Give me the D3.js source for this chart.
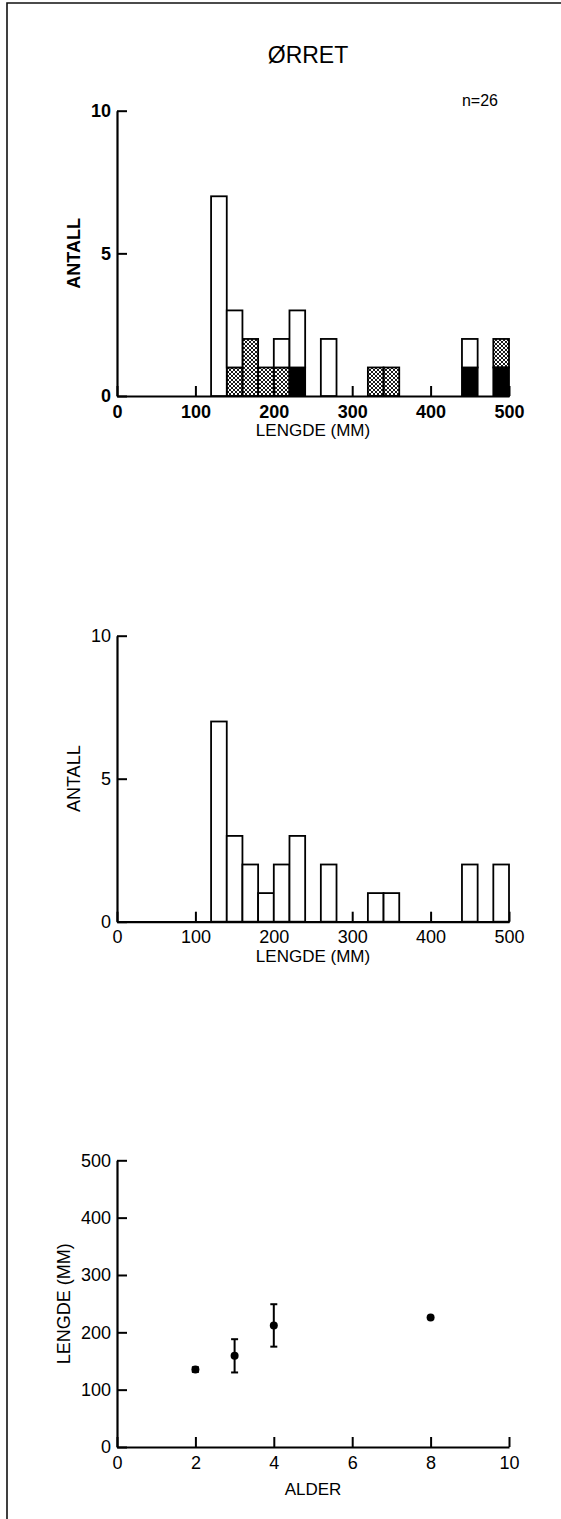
<!DOCTYPE html>
<html>
<head>
<meta charset="utf-8">
<script src="https://cdn.jsdelivr.net/npm/d3@7"></script>
<style>
  body { margin: 0; background: #fff; }
  svg { display: block; font-family: "Liberation Sans", Arial, sans-serif; }
</style>
</head>
<body>
<div id="chart"></div>
<script>
// histogram bins (lower edge, mm), 20 mm wide
const binStarts = [120, 140, 160, 180, 200, 220, 260, 320, 340, 440, 480];
const binWidth = 20;
// top panel, stacked: black at bottom, hatched, then open
const countBlack   = [0, 0, 0, 0, 0, 1, 0, 0, 0, 1, 1];
const countHatched = [0, 1, 2, 1, 1, 0, 0, 1, 1, 0, 1];
const countOpen    = [7, 2, 0, 0, 1, 2, 2, 0, 0, 1, 0];
// middle panel, all fish
const countTotal   = [7, 3, 2, 1, 2, 3, 2, 1, 1, 2, 2];
// bottom panel, length at age
const ages = [2, 3, 4, 8];
const meanLength = [135, 159, 212, 226];
const sdLength = [4, 29, 37, 0];

const lengthTicks = [0, 100, 200, 300, 400, 500];
const countTicks = [0, 5, 10];
const ageTicks = [0, 2, 4, 6, 8, 10];
const meanTicks = [0, 100, 200, 300, 400, 500];

let width = 561, height = 1519;
let left = 117, right = 509;

const svg = d3.select("#chart")
  .append("svg")
  .attr("width", width)
  .attr("height", height);

// hatch pattern
svg.append("defs").append("pattern")
    .attr("id", "hatch")
    .attr("patternUnits", "userSpaceOnUse")
    .attr("width", 4)
    .attr("height", 4)
  .append("path")
    .attr("d", "M0,0L4,4M4,0L0,4")
    .attr("stroke", "#000")
    .attr("stroke-width", 0.9);

// frame
svg.append("path")
    .attr("d", `M7,${height}V3H${width}`)
    .attr("fill", "none")
    .attr("stroke", "#111")
    .attr("stroke-width", 1.6);

svg.append("text")
    .attr("x", 308)
    .attr("y", 63)
    .attr("text-anchor", "middle")
    .attr("font-size", 23)
    .text("ØRRET");

let x = d3.scaleLinear().domain([0, 500]).range([left, right]);

function drawAxes(g, xs, ys, xt, yt, bold, xlabel, ylabel, xlabelGap, ylabelX) {
  let y0 = ys.range()[0];
  let ax = g.append("g")
    .attr("transform", `translate(0,${y0})`)
    .call(d3.axisBottom(xs).tickValues(xt).tickSize(-10).tickSizeOuter(0).tickPadding(9));
  let ay = g.append("g")
    .attr("transform", `translate(${left},0)`)
    .call(d3.axisLeft(ys).tickValues(yt).tickSize(-10).tickSizeOuter(0).tickPadding(6));
  for (let a of [ax, ay]) {
    a.attr("font-family", null).attr("font-size", 18)
      .attr("font-weight", bold ? "bold" : null);
    a.select(".domain").attr("stroke-width", 2.2);
    a.selectAll(".tick line").attr("stroke-width", 2);
    a.selectAll(".tick text").attr("fill", "#000");
  }
  g.append("text")
      .attr("x", (left + right) / 2)
      .attr("y", y0 + xlabelGap)
      .attr("text-anchor", "middle")
      .attr("font-size", 17)
      .text(xlabel);
  g.append("text")
      .attr("transform", `translate(${ylabelX},${(ys.range()[0] + ys.range()[1]) / 2}) rotate(-90)`)
      .attr("text-anchor", "middle")
      .attr("font-size", 18)
      .attr("font-weight", bold ? "bold" : null)
      .text(ylabel);
}

// ---- top panel: stacked histogram
let yTop = d3.scaleLinear().domain([0, 10]).range([396, 110.7]);
let gTop = svg.append("g");
drawAxes(gTop, x, yTop, lengthTicks, countTicks, true, "LENGDE (MM)", "ANTALL", 40, 80);

let rows = binStarts.map((b, i) => ({ bin: b, black: countBlack[i], hatched: countHatched[i], open: countOpen[i] }));
let stack = d3.stack().keys(["black", "hatched", "open"])(rows);
let fills = { black: "#000", hatched: "url(#hatch)", open: "#fff" };

gTop.selectAll("g.layer")
  .data(stack)
  .join("g")
    .attr("class", "layer")
    .attr("fill", d => fills[d.key])
  .selectAll("rect")
  .data(d => d.filter(s => s[1] > s[0]))
  .join("rect")
    .attr("x", d => x(d.data.bin))
    .attr("width", d => x(d.data.bin + binWidth) - x(d.data.bin))
    .attr("y", d => yTop(d[1]))
    .attr("height", d => yTop(d[0]) - yTop(d[1]))
    .attr("stroke", "#000")
    .attr("stroke-width", 1.8);

svg.append("text")
    .attr("x", 480)
    .attr("y", 106)
    .attr("text-anchor", "middle")
    .attr("font-size", 16)
    .text("n=26");

// ---- middle panel: all fish
let yMid = d3.scaleLinear().domain([0, 10]).range([921.7, 635.7]);
let gMid = svg.append("g");
drawAxes(gMid, x, yMid, lengthTicks, countTicks, false, "LENGDE (MM)", "ANTALL", 40, 80);

gMid.selectAll("rect")
  .data(binStarts)
  .join("rect")
    .attr("x", d => x(d))
    .attr("width", d => x(d + binWidth) - x(d))
    .attr("y", (d, i) => yMid(countTotal[i]))
    .attr("height", (d, i) => yMid(0) - yMid(countTotal[i]))
    .attr("fill", "#fff")
    .attr("stroke", "#000")
    .attr("stroke-width", 1.8);

// ---- bottom panel: length at age
let xAge = d3.scaleLinear().domain([0, 10]).range([left, right]);
let yLen = d3.scaleLinear().domain([0, 500]).range([1447, 1160.3]);
let gBot = svg.append("g");
drawAxes(gBot, xAge, yLen, ageTicks, meanTicks, false, "ALDER", "LENGDE (MM)", 48, 70);

let pts = ages.map((a, i) => ({ age: a, mean: meanLength[i], sd: sdLength[i] }));
let eb = gBot.selectAll("g.err")
  .data(pts.filter(d => d.sd > 0))
  .join("g")
    .attr("class", "err")
    .attr("stroke", "#000")
    .attr("stroke-width", 2);
eb.append("line")
    .attr("x1", d => xAge(d.age)).attr("x2", d => xAge(d.age))
    .attr("y1", d => yLen(d.mean - d.sd)).attr("y2", d => yLen(d.mean + d.sd));
for (let s of [-1, 1]) {
  eb.append("line")
      .attr("x1", d => xAge(d.age) - 3.5).attr("x2", d => xAge(d.age) + 3.5)
      .attr("y1", d => yLen(d.mean + s * d.sd)).attr("y2", d => yLen(d.mean + s * d.sd));
}
gBot.selectAll("circle")
  .data(pts)
  .join("circle")
    .attr("cx", d => xAge(d.age))
    .attr("cy", d => yLen(d.mean))
    .attr("r", 4)
    .attr("fill", "#000");
</script>
</body>
</html>
